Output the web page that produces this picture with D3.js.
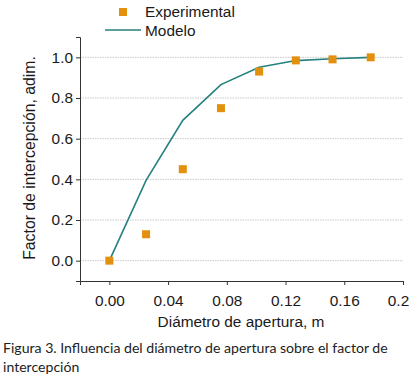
<!DOCTYPE html>
<html>
<head>
<meta charset="utf-8">
<script src="https://cdn.jsdelivr.net/npm/d3@7"></script>
<style>
  body { margin: 0; background: #fff; }
  svg { display: block; }
</style>
</head>
<body>
<div id="chart"></div>
<script>
const width = 411, height = 380;

// data
const expX = [0, 0.025, 0.05, 0.076, 0.102, 0.127, 0.152, 0.178];
const expY = [0, 0.13, 0.45, 0.75, 0.93, 0.985, 0.99, 1.0];
const modelX = [0, 0.025, 0.05, 0.076, 0.102, 0.127, 0.152, 0.178];
const modelY = [0, 0.395, 0.69, 0.866, 0.951, 0.984, 0.993, 1.0];
const xTicks = [0, 0.04, 0.08, 0.12, 0.16, 0.2];
const yTicks = [0, 0.2, 0.4, 0.6, 0.8, 1.0];

const orange = "#e3900f", teal = "#25817f";
const font = "'Liberation Sans', Arial, sans-serif";
const fs = 15.4;

const svg = d3.select("#chart")
    .append("svg")
    .attr("width", width)
    .attr("height", height);

const x = d3.scaleLinear().domain([-0.02, 0.2]).range([80, 403]);
const y = d3.scaleLinear().domain([-0.1, 1.1]).range([281, 37]);

// gridlines
svg.append("g")
    .selectAll("line")
    .data(yTicks)
    .join("line")
    .attr("x1", x(-0.02)).attr("x2", x(0.2))
    .attr("y1", d => y(d)).attr("y2", d => y(d))
    .attr("stroke", "#c8c8c8")
    .attr("stroke-dasharray", "1.5,1");

// x axis
const xAxis = svg.append("g").attr("transform", `translate(0,${y(-0.1)})`);
xAxis.call(d3.axisBottom(x).tickValues(d3.range(-0.02, 0.2001, 0.02)).tickSize(3).tickFormat(""));
xAxis.call(d3.axisBottom(x).tickValues(xTicks).tickSize(4)
    .tickFormat(d => d === 0.2 ? "0.2" : d3.format(".2f")(d)));

// y axis
const yAxis = svg.append("g").attr("transform", `translate(${x(-0.02)},0)`);
yAxis.call(d3.axisLeft(y).tickValues(d3.range(-0.1, 1.1001, 0.1)).tickSize(3).tickFormat(""));
yAxis.call(d3.axisLeft(y).tickValues(yTicks).tickSize(4).tickFormat(d3.format(".1f")));

svg.selectAll(".domain").attr("stroke", "#333");
svg.selectAll(".tick line").attr("stroke", "#333");
svg.selectAll(".tick text")
    .attr("font-family", font)
    .attr("font-size", fs)
    .attr("fill", "#1a1a1a");
xAxis.selectAll(".tick text").attr("dy", "1.15em");
// last label sits against the right edge, as in the original
xAxis.selectAll(".tick text").filter(d => d === 0.2).attr("dx", -5);
yAxis.selectAll(".tick text").attr("x", -7);

// model line
const line = d3.line().x(d => x(d[0])).y(d => y(d[1]));
svg.append("path")
    .datum(d3.zip(modelX, modelY))
    .attr("fill", "none")
    .attr("stroke", teal)
    .attr("stroke-width", 1.6)
    .attr("d", line);

// experimental squares
const sq = 8;
svg.append("g")
    .selectAll("rect")
    .data(d3.zip(expX, expY))
    .join("rect")
    .attr("x", d => x(d[0]) - sq / 2)
    .attr("y", d => y(d[1]) - sq / 2)
    .attr("width", sq).attr("height", sq)
    .attr("fill", orange);

// legend
svg.append("rect")
    .attr("x", 119).attr("y", 8).attr("width", sq).attr("height", sq)
    .attr("fill", orange);
svg.append("text")
    .attr("x", 145).attr("y", 17)
    .attr("font-family", font).attr("font-size", fs).attr("fill", "#1a1a1a")
    .text("Experimental");
svg.append("line")
    .attr("x1", 105).attr("x2", 141).attr("y1", 30).attr("y2", 30)
    .attr("stroke", teal).attr("stroke-width", 1.6);
svg.append("text")
    .attr("x", 145).attr("y", 35.5)
    .attr("font-family", font).attr("font-size", fs).attr("fill", "#1a1a1a")
    .text("Modelo");

// axis titles
svg.append("text")
    .attr("x", 241).attr("y", 327)
    .attr("text-anchor", "middle")
    .attr("font-family", font).attr("font-size", fs).attr("fill", "#1a1a1a")
    .text("Diámetro de apertura, m");
svg.append("text")
    .attr("transform", "translate(35,158) rotate(-90)")
    .attr("text-anchor", "middle")
    .attr("font-family", font).attr("font-size", 15.8).attr("fill", "#1a1a1a")
    .text("Factor de intercepción, adim.");

// caption
const caption = svg.append("text")
    .attr("font-family", "Lato, 'Open Sans', sans-serif")
    .attr("font-size", 14.1)
    .attr("fill", "#222");
caption.append("tspan").attr("x", 3).attr("y", 353)
    .text("Figura 3. Influencia del diámetro de apertura sobre el factor de");
caption.append("tspan").attr("x", 3).attr("y", 372)
    .text("intercepción");
</script>
</body>
</html>
